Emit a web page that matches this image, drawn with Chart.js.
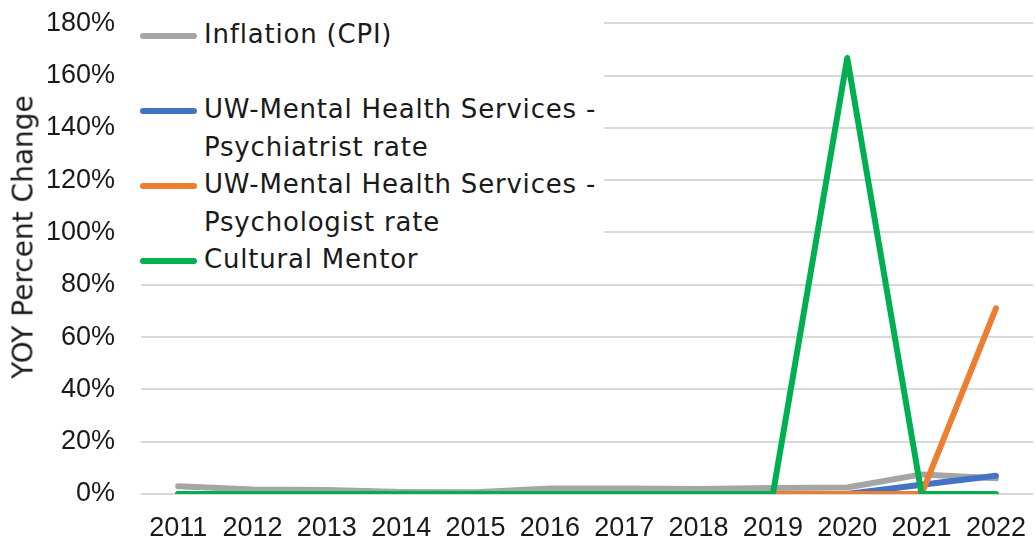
<!DOCTYPE html>
<html>
<head>
<meta charset="utf-8">
<script src="https://cdn.jsdelivr.net/npm/chart.js@4"></script>
<style>
  html, body { margin: 0; padding: 0; background: #fff; overflow: hidden; }
  #wrap { position: relative; width: 1036px; height: 546px; overflow: hidden; }
  #chart { position: absolute; left: 0; top: -19px; }
  .ytitle {
    position: absolute; left: 23px; top: 237px;
    transform: translate(-50%, -50%) rotate(-90deg);
    font: 28px "DejaVu Sans", sans-serif; color: #1a1a1a; white-space: nowrap;
  }
  #legend {
    position: absolute; left: 136px; top: 14px; width: 468px; height: 266px;
    background: #fff;
  }
  .item { position: absolute; left: 4px; }
  .item .sym { position: absolute; left: 0; top: 17px; width: 57px; height: 6px; border-radius: 3px; }
  .item .txt {
    position: absolute; left: 64px; top: 0; white-space: nowrap;
    font: 26px "DejaVu Sans", sans-serif; line-height: 37.5px; letter-spacing: 0.8px; color: #1a1a1a;
  }
</style>
</head>
<body>
<div id="wrap">
  <canvas id="chart" width="1044" height="565"></canvas>
  <div class="ytitle">YOY Percent Change</div>
  <div id="legend"></div>
</div>
<script>
// data (percent)
const years = ['2011', '2012', '2013', '2014', '2015', '2016', '2017', '2018', '2019', '2020', '2021', '2022'];
const cpi = [3.0, 1.7, 1.5, 0.8, 0.7, 2.1, 2.1, 1.9, 2.3, 2.5, 7.5, 6.0];
const psychiatrist = [0, 0, 0, 0, 0, 0, 0, 0, 0, 0, 3.5, 7.0];
const psychologist = [0, 0, 0, 0, 0, 0, 0, 0, 0, 0, 0, 71.0];
const culturalMentor = [0, 0, 0, 0, 0, 0, 0, 0, 0, 166.7, 0, 0];
const yTicks = [0, 20, 40, 60, 80, 100, 120, 140, 160, 180];

const series = [
  { label: 'Inflation (CPI)', lines: ['Inflation (CPI)'], data: cpi, color: '#A5A5A5', order: 4 },
  { label: 'UW-Mental Health Services - Psychiatrist rate', lines: ['UW-Mental Health Services -', 'Psychiatrist rate'], data: psychiatrist, color: '#4472C4', order: 3 },
  { label: 'UW-Mental Health Services - Psychologist rate', lines: ['UW-Mental Health Services -', 'Psychologist rate'], data: psychologist, color: '#ED7D31', order: 2 },
  { label: 'Cultural Mentor', lines: ['Cultural Mentor'], data: culturalMentor, color: '#00B050', order: 1 },
];

const tickFont = { family: '"Liberation Sans", Arial, sans-serif', size: 27 };

new Chart(document.getElementById('chart'), {
  type: 'line',
  data: {
    labels: years,
    datasets: series.map(s => ({
      label: s.label,
      data: s.data,
      borderColor: s.color,
      backgroundColor: s.color,
      borderWidth: 6,
      borderCapStyle: 'round',
      borderJoinStyle: 'round',
      pointRadius: 0,
      tension: 0,
      order: s.order,
    })),
  },
  options: {
    responsive: false,
    animation: false,
    layout: { padding: { top: 3, right: 1, left: 0, bottom: 0 } },
    plugins: { legend: { display: false }, tooltip: { enabled: false } },
    scales: {
      x: {
        offset: true,
        grid: { display: false, drawTicks: false },
        border: { display: false },
        ticks: { color: '#1a1a1a', font: tickFont, padding: 18, maxRotation: 0, autoSkip: false },
        afterFit: s => { s.height = 52; },
      },
      y: {
        min: 0,
        max: 180,
        afterBuildTicks: s => { s.ticks = yTicks.map(v => ({ value: v })); },
        grid: { color: '#d9d9d9', lineWidth: 2, drawTicks: false },
        border: { display: false },
        ticks: { color: '#1a1a1a', font: tickFont, padding: 26, callback: v => v + '%' },
        afterFit: s => { s.width = 141; },
      },
    },
  },
});

// legend overlaid on the plot, like the original
const legend = document.getElementById('legend');
series.forEach((s, i) => {
  const item = document.createElement('div');
  item.className = 'item';
  item.style.top = (2 + i * 75) + 'px';
  item.innerHTML = '<div class="sym" style="background:' + s.color + '"></div>' +
    '<div class="txt">' + s.lines.join('<br>') + '</div>';
  legend.appendChild(item);
});
</script>
</body>
</html>
